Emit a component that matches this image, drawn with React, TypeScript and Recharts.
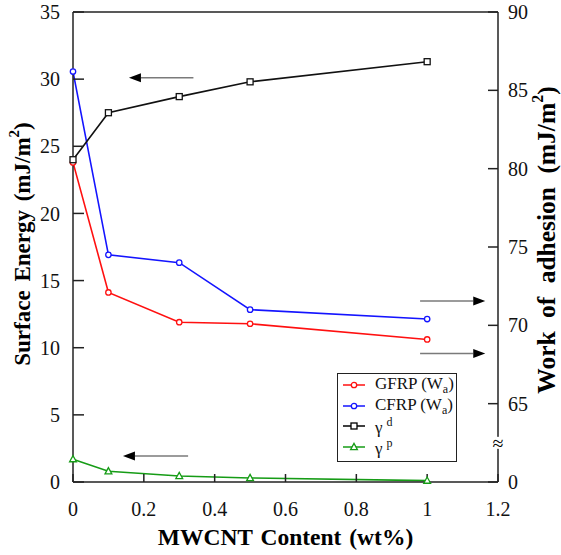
import { Legend, Line, LineChart, ReferenceDot, ReferenceLine, XAxis, YAxis } from "recharts"

// MWCNT content (wt%)
const contents = [0, 0.1, 0.3, 0.5, 1]
// work of adhesion, right axis (mJ/m2)
const gfrpWa = [80.4, 72.1, 70.2, 70.1, 69.1]
const cfrpWa = [86.2, 74.5, 74.0, 71.0, 70.4]
// surface energy components, left axis (mJ/m2)
const gammaD = [24.0, 27.5, 28.7, 29.8, 31.3]
const gammaP = [1.7, 0.8, 0.45, 0.3, 0.1]

const xTicks = [0, 0.2, 0.4, 0.6, 0.8, 1, 1.2]
const leftTicks = [0, 5, 10, 15, 20, 25, 30, 35]
const rightTicks = [60, 65, 70, 75, 80, 85, 90]

// arrow annotations, in axis units: tail x, tip x, y
const arrowFrom = [0.34, 0.325, 0.98, 0.98]
const arrowTo = [0.158, 0.141, 1.164, 1.164]
const arrowY = [30.1, 1.94, 71.55, 68.2]
const arrowAxis = ["left", "left", "right", "right"]

const data = contents.map((c, i) => ({
  content: c,
  gfrp: gfrpWa[i],
  cfrp: cfrpWa[i],
  gd: gammaD[i],
  gp: gammaP[i],
}))

const FONT = "Liberation Serif"
const AXIS = "#222"
const RED = "#ff1010"
const BLUE = "#1414ff"
const GREEN = "#169c16"

function Marker({ kind, cx, cy, color }: { kind: string; cx: number; cy: number; color: string }) {
  if (kind === "square") {
    return <rect x={cx - 3} y={cy - 3} width={6} height={6} fill="#fff" stroke={color} strokeWidth={1.3} />
  }
  if (kind === "triangle") {
    return (
      <polygon
        points={`${cx},${cy - 3.6} ${cx - 3.4},${cy + 2.6} ${cx + 3.4},${cy + 2.6}`}
        fill="#fff"
        stroke={color}
        strokeWidth={1.3}
      />
    )
  }
  return <circle cx={cx} cy={cy} r={2.7} fill="#fff" stroke={color} strokeWidth={1.3} />
}

const dotOf = (kind: string, color: string) => (p: any) =>
  <Marker key={`${kind}-${p.index}`} kind={kind} cx={p.cx} cy={p.cy} color={color} />

function Arrow(props: any) {
  const { x1, y1, x2, y2 } = props
  const dir = x2 > x1 ? 1 : -1
  const head = 12
  return (
    <g>
      <line x1={x1} y1={y1} x2={x2 - dir * head} y2={y2} stroke="#7a7a7a" strokeWidth={1.6} />
      <polygon points={`${x2},${y2} ${x2 - dir * head},${y2 - 4.5} ${x2 - dir * head},${y2 + 4.5}`} fill="#000" />
    </g>
  )
}

function Break(props: any) {
  const { cx, cy } = props
  return (
    <g>
      <rect x={cx - 5} y={cy - 6} width={10} height={12} fill="#fff" />
      <text x={cx} y={cy} textAnchor="middle" dominantBaseline="central" fontFamily={FONT} fontSize={20} fill="#000">
        ≈
      </text>
    </g>
  )
}

function TitleText({ x, y, rotate, size, spacing, children }: any) {
  return (
    <text
      x={x}
      y={y}
      transform={rotate ? `rotate(-90 ${x} ${y})` : undefined}
      textAnchor="middle"
      dominantBaseline={rotate ? "central" : undefined}
      fontFamily={FONT}
      fontWeight={700}
      fontSize={size}
      style={{ wordSpacing: spacing }}
      fill="#000"
    >
      {children}
    </text>
  )
}

function LeftTitle({ viewBox }: any) {
  return (
    <TitleText x={viewBox.x + 22} y={viewBox.y + viewBox.height / 2 - 3} rotate size={23} spacing={3}>
      Surface Energy (mJ/m<tspan dy={-8} fontSize={15}>2</tspan>
      <tspan dy={8}>)</tspan>
    </TitleText>
  )
}

function RightTitle({ viewBox }: any) {
  return (
    <TitleText x={viewBox.x + 48} y={viewBox.y + viewBox.height / 2 - 7} rotate size={25.5} spacing={7}>
      Work of adhesion (mJ/m<tspan dy={-9} fontSize={16}>2</tspan>
      <tspan dy={9}>)</tspan>
    </TitleText>
  )
}

function BottomTitle({ viewBox }: any) {
  return (
    <TitleText x={viewBox.x + viewBox.width / 2} y={viewBox.y + 63} size={23.5} spacing={2}>
      MWCNT Content (wt%)
    </TitleText>
  )
}

const legendItems = [
  { name: "GFRP (W", sub: "a", sup: "", color: RED, kind: "circle" },
  { name: "CFRP (W", sub: "a", sup: "", color: BLUE, kind: "circle" },
  { name: "γ", sub: "", sup: "d", color: "#000", kind: "square" },
  { name: "γ", sub: "", sup: "p", color: GREEN, kind: "triangle" },
]

function LegendBox() {
  return (
    <div
      style={{
        width: 120,
        height: 89,
        border: `1.5px solid ${AXIS}`,
        background: "#fff",
        fontFamily: FONT,
        fontSize: 17,
        paddingTop: 1,
        boxSizing: "border-box",
      }}
    >
      {legendItems.map((it) => (
        <div key={it.name + it.sup} style={{ display: "flex", alignItems: "center", height: 20.5 }}>
          <svg width={30} height={10} style={{ marginLeft: 5, marginRight: 2 }}>
            <line x1={0} y1={5} x2={22} y2={5} stroke={it.color} strokeWidth={1.5} />
            <Marker kind={it.kind} cx={11} cy={5} color={it.color} />
          </svg>
          <span style={{ lineHeight: 1, color: "#111" }}>
            {it.name}
            {it.sub && (
              <>
                <sub style={{ fontSize: 12 }}>{it.sub}</sub>)
              </>
            )}
            {it.sup && <sup style={{ fontSize: 12, marginLeft: 4 }}>{it.sup}</sup>}
          </span>
        </div>
      ))}
    </div>
  )
}

const tickStyle = { fontFamily: FONT, fontSize: 20, fill: "#111" }

export default function App() {
  return (
    <div style={{ position: "absolute", left: 0, top: 0, background: "#fff", fontFamily: FONT }}>
      <LineChart width={561} height={555} data={data} margin={{ top: 12, right: 0, bottom: 0, left: 0 }}>
        <XAxis
          dataKey="content"
          type="number"
          domain={[0, 1.2]}
          ticks={xTicks}
          height={73}
          tickSize={-8}
          tickMargin={28}
          tick={tickStyle}
          stroke={AXIS}
          axisLine={{ stroke: AXIS, strokeWidth: 1.5 }}
          tickLine={{ stroke: AXIS, strokeWidth: 1.5 }}
          label={<BottomTitle />}
        />
        <YAxis
          yAxisId="left"
          domain={[0, 35]}
          ticks={leftTicks}
          width={73}
          tickSize={-11}
          tickMargin={24}
          tick={tickStyle}
          axisLine={{ stroke: AXIS, strokeWidth: 1.5 }}
          tickLine={{ stroke: AXIS, strokeWidth: 1.5 }}
          label={<LeftTitle />}
        />
        <YAxis
          yAxisId="right"
          orientation="right"
          domain={[60, 90]}
          ticks={rightTicks}
          width={63}
          tickSize={-10}
          tickMargin={20}
          tick={tickStyle}
          tickFormatter={(v: number) => (v === 60 ? "0" : String(v))}
          axisLine={{ stroke: AXIS, strokeWidth: 1.5 }}
          tickLine={{ stroke: AXIS, strokeWidth: 1.5 }}
          label={<RightTitle />}
        />
        <ReferenceLine yAxisId="left" y={35} stroke={AXIS} strokeWidth={1.5} />
        {arrowFrom.map((f, i) => (
          <ReferenceLine
            key={`arrow-${i}`}
            yAxisId={arrowAxis[i]}
            segment={[
              { x: f, y: arrowY[i] },
              { x: arrowTo[i], y: arrowY[i] },
            ]}
            shape={<Arrow />}
          />
        ))}
        <Line yAxisId="right" dataKey="gfrp" name="GFRP" stroke={RED} strokeWidth={1.6} dot={dotOf("circle", RED)} isAnimationActive={false} />
        <Line yAxisId="right" dataKey="cfrp" name="CFRP" stroke={BLUE} strokeWidth={1.6} dot={dotOf("circle", BLUE)} isAnimationActive={false} />
        <Line yAxisId="left" dataKey="gd" name="γd" stroke="#111" strokeWidth={1.6} dot={dotOf("square", "#111")} isAnimationActive={false} />
        <Line yAxisId="left" dataKey="gp" name="γp" stroke={GREEN} strokeWidth={1.6} dot={dotOf("triangle", GREEN)} isAnimationActive={false} />
        <ReferenceDot yAxisId="right" x={1.2} y={62.5} shape={<Break />} ifOverflow="visible" />
        <Legend
          layout="vertical"
          align="center"
          verticalAlign="middle"
          content={<LegendBox />}
          wrapperStyle={{ left: 337, top: 373, width: 120 }}
        />
      </LineChart>
    </div>
  )
}
